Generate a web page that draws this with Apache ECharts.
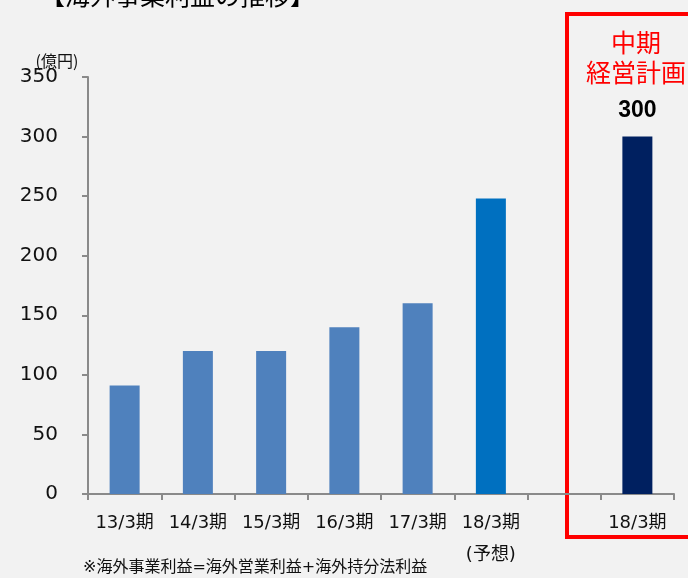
<!DOCTYPE html>
<html>
<head>
<meta charset="utf-8">
<script src="https://cdn.jsdelivr.net/npm/echarts@6/dist/echarts.min.js"></script>
<style>
  html, body { margin: 0; padding: 0; background: #f2f2f2; }
  #chart { width: 688px; height: 578px; }
</style>
</head>
<body>
<div id="chart"></div>
<script>
// 海外事業利益の推移（億円）
const categories = ['13/3期', '14/3期', '15/3期', '16/3期', '17/3期', '18/3期\n(予想)', '', '18/3期'];
const results   = [91, 120, 120, 140, 160, null, null, null];   // 実績
const forecast  = [null, null, null, null, null, 248, null, null]; // 予想
const planTarget = [null, null, null, null, null, null, null, 300]; // 中期経営計画
const yTicks = { min: 0, max: 350, interval: 50 };

const JP_FONT = '"DejaVu Sans", "Noto Sans CJK JP", sans-serif';

const chart = echarts.init(document.getElementById('chart'), null, { renderer: 'canvas' });

function stacked(values) {
  return values.map(v => (v === null ? '-' : v));
}

chart.setOption({
  backgroundColor: '#f2f2f2',
  animation: false,
  textStyle: { fontFamily: JP_FONT },
  grid: { left: 88, right: 14, top: 77, bottom: 84, containLabel: false },
  xAxis: {
    type: 'category',
    data: categories,
    axisLine: { show: true, lineStyle: { color: '#8a8a8a', width: 2 } },
    axisTick: { show: true, interval: 0, length: 6, alignWithLabel: false, lineStyle: { color: '#8a8a8a', width: 2 } },
    axisLabel: {
      interval: 0,
      margin: 13,
      color: '#111',
      fontSize: 18,
      lineHeight: 32,
      fontFamily: JP_FONT
    }
  },
  yAxis: {
    type: 'value',
    min: yTicks.min,
    max: yTicks.max,
    interval: yTicks.interval,
    splitLine: { show: false },
    axisLine: { show: true, lineStyle: { color: '#8a8a8a', width: 2 } },
    axisTick: { show: true, length: 6, lineStyle: { color: '#8a8a8a', width: 2 } },
    axisLabel: { margin: 30, color: '#111', fontSize: 20, fontFamily: '"DejaVu Sans", sans-serif' }
  },
  series: [
    {
      name: '実績', type: 'bar', stack: 'profit', barWidth: 30,
      data: stacked(results),
      itemStyle: { color: '#4f81bd' }
    },
    {
      name: '予想', type: 'bar', stack: 'profit', barWidth: 30,
      data: stacked(forecast),
      itemStyle: { color: '#0070c0' }
    },
    {
      name: '中期経営計画', type: 'bar', stack: 'profit', barWidth: 30,
      data: stacked(planTarget),
      itemStyle: { color: '#002060' },
      label: {
        show: true, position: 'top', distance: 14,
        color: '#000', fontSize: 23, fontWeight: 'bold',
        fontFamily: '"Liberation Sans", "Noto Sans", sans-serif'
      }
    }
  ],
  graphic: [
    {
      type: 'text', left: 40, top: -17,
      style: { text: '【海外事業利益の推移】', fill: '#000', font: '25px "Noto Sans CJK JP"' }
    },
    {
      type: 'text', x: 57, y: 61,
      style: { text: '(億円)', fill: '#111', textAlign: 'center', textVerticalAlign: 'middle', font: '16px "Noto Sans CJK JP"' }
    },
    {
      type: 'rect',
      shape: { x: 567, y: 14, width: 200, height: 523 },
      style: { fill: 'none', stroke: '#ff0000', lineWidth: 4 }
    },
    {
      type: 'text', x: 636, y: 42,
      style: { text: '中期', fill: '#ff0000', textAlign: 'center', textVerticalAlign: 'middle', font: '25px "Noto Sans CJK JP"' }
    },
    {
      type: 'text', x: 636, y: 72,
      style: { text: '経営計画', fill: '#ff0000', textAlign: 'center', textVerticalAlign: 'middle', font: '25px "Noto Sans CJK JP"' }
    },
    {
      type: 'text', x: 83, y: 568,
      style: { text: '※海外事業利益=海外営業利益+海外持分法利益', fill: '#111', textAlign: 'left', textVerticalAlign: 'middle', font: '16px "DejaVu Sans", "Noto Sans CJK JP"' }
    }
  ]
});
</script>
</body>
</html>
